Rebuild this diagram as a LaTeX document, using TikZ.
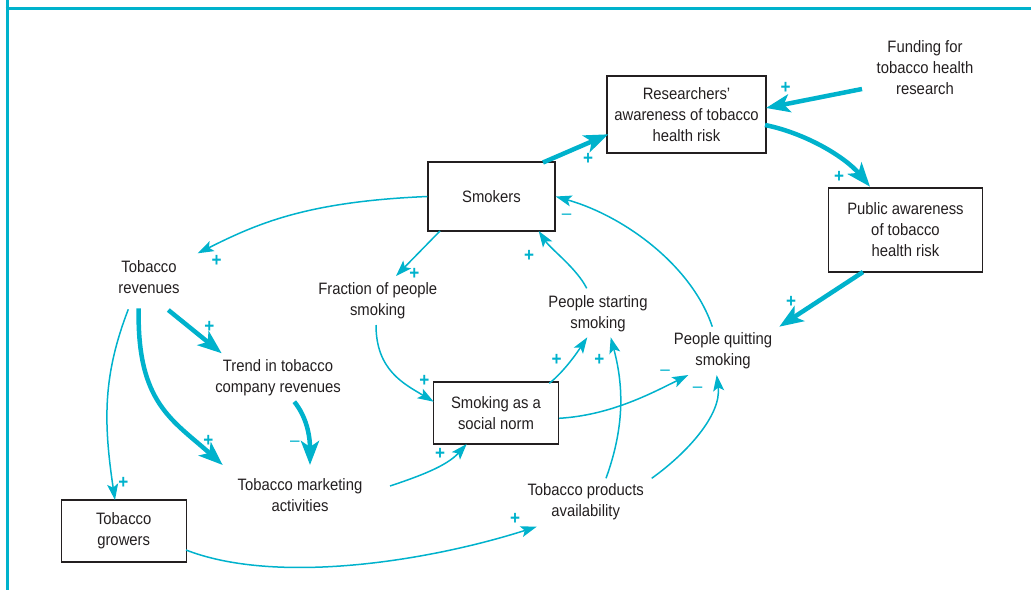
\documentclass[tikz,border=0pt]{standalone}
\usepackage{fontspec}
\setmainfont{Liberation Sans}[FakeStretch=0.9]
\usetikzlibrary{arrows.meta}
\definecolor{cy}{RGB}{0,178,204}
\definecolor{ink}{RGB}{35,31,32}
\begin{document}
\begin{tikzpicture}[x=1pt,y=-1pt,
  every node/.style={text=ink, font=\fontsize{16.5}{21}\selectfont},
  txt/.style={align=center, inner sep=0pt},
  box/.style={draw=ink, line width=1.4pt, align=center, inner sep=0pt},
  thinarr/.style={draw=cy, line width=1.5pt, -{Stealth[length=16pt,width=11pt,inset=3.5pt]}},
  thickarr/.style={draw=cy, line width=4.5pt, -{Stealth[length=24pt,width=18pt,inset=6pt]}},
  sgn/.style={text=cy, font=\fontsize{19}{19}\selectfont\bfseries, inner sep=0pt},
  frame/.style={draw=cy, line width=3pt}]
\useasboundingbox (0,0) rectangle (1031,590);
% frame
\draw[frame] (7,0) -- (7,590);
\draw[frame] (5.5,8) -- (1031,8);
% nodes
\node[box, minimum width=159pt, minimum height=77pt] (res) at (686.5,114.5) {Researchers’\\awareness of tobacco\\health risk};
\node[txt] (fund) at (925,68) {Funding for\\tobacco health\\research};
\node[box, minimum width=154pt, minimum height=84pt] (pub) at (905.5,230) {Public awareness\\of tobacco\\health risk};
\node[box, minimum width=127pt, minimum height=69pt] (smk) at (491.5,196.5) {Smokers};
\node[txt] (rev) at (149,277) {Tobacco\\revenues};
\node[txt] (frac) at (377.7,300.5) {Fraction of people\\smoking};
\node[txt] (start) at (598,313.5) {People starting\\smoking};
\node[txt] (quit) at (723,351) {People quitting\\smoking};
\node[box, minimum width=125pt, minimum height=62pt] (norm) at (496,413) {Smoking as a\\social norm};
\node[txt] (prod) at (585.7,502) {Tobacco products\\availability};
\node[txt] (trend) at (278,377.5) {Trend in tobacco\\company revenues};
\node[txt] (mkt) at (300,495.5) {Tobacco marketing\\activities};
\node[box, minimum width=125pt, minimum height=62pt] (grow) at (123.7,531) {Tobacco\\growers};
% thick connectors
\draw[thickarr] ([shift={(51.5,-34)}]smk.center) -- ([shift={(-78.2,19.8)}]res.center);
\draw[thickarr] ([shift={(-63,21)}]fund.center) -- ([shift={(79.5,-6.5)}]res.center);
\draw[thickarr] ([shift={(78.5,10.5)}]res.center) .. controls +(40,8) and +(-25,-30) .. ([shift={(-35.5,-43.3)}]pub.center);
\draw[thickarr] ([shift={(-42.5,42)}]pub.center) -- ([shift={(56.3,-24.3)}]quit.center);
\draw[thickarr] ([shift={(19.3,33)}]rev.center) -- ([shift={(-56.3,-24.2)}]trend.center);
\draw[thickarr] ([shift={(-10.3,31.3)}]rev.center) .. controls +(-2,95) and +(-50,-45) .. ([shift={(-77.3,-30.5)}]mkt.center);
\draw[thickarr] ([shift={(16.3,24.2)}]trend.center) .. controls +(12,15) and +(0,-30) .. ([shift={(10,-30.5)}]mkt.center);
% thin connectors
\draw[thinarr] (smk.west) .. controls +(-120,5) and +(60,-30) .. ([shift={(48.7,-23.7)}]rev.center);
\draw[thinarr] ([shift={(-51.5,34.5)}]smk.center) -- ([shift={(18.3,-24.5)}]frac.center);
\draw[thinarr] ([shift={(-11.3,-25.2)}]start.center) .. controls +(-10,-20) and +(12,18) .. ([shift={(47.2,34.5)}]smk.center);
\draw[thinarr] ([shift={(-10.7,-24.3)}]quit.center) .. controls +(-20,-60) and +(70,20) .. (smk.east);
\draw[thinarr] ([shift={(-1.7,24.5)}]frac.center) .. controls +(0,45) and +(-30,-18) .. ([shift={(-62.3,-11.3)}]norm.center);
\draw[thinarr] ([shift={(90,-9.5)}]mkt.center) .. controls +(30,-10) and +(-20,22) .. ([shift={(-29.3,31)}]norm.center);
\draw[thinarr] ([shift={(53.3,-29.7)}]norm.center) .. controls +(15,-12) and +(-10,15) .. ([shift={(-10.7,23.8)}]start.center);
\draw[thinarr] ([shift={(63,5.3)}]norm.center) .. controls +(50,-3) and +(-40,20) .. ([shift={(-34.7,24)}]quit.center);
\draw[thinarr] ([shift={(20.3,-23.7)}]prod.center) .. controls +(20,-55) and +(12,45) .. ([shift={(12.7,23.8)}]start.center);
\draw[thinarr] ([shift={(66,-23.7)}]prod.center) .. controls +(35,-25) and +(5,40) .. ([shift={(-6.3,24)}]quit.center);
\draw[thinarr] ([shift={(-20.7,32.3)}]rev.center) .. controls +(-25,65) and +(-12,-80) .. ([shift={(-8.7,-31)}]grow.center);
\draw[thinarr] ([shift={(62.3,19)}]grow.center) .. controls +(90,35) and +(-110,35) .. ([shift={(-49,24.7)}]prod.center);
% polarity signs
\node[sgn] (s1) at (588,159) {+};
\node[sgn] (s2) at (785.7,87.7) {+};
\node[sgn] (s3) at (839,177.3) {+};
\node[sgn] (s4) at (791,302) {+};
\node[sgn] (s5) at (209.3,326.7) {+};
\node[sgn] (s6) at (208.3,440.7) {+};
\node[sgn] (s7) at (295,444) {\mdseries –};
\node[sgn] (s8) at (216.7,261) {+};
\node[sgn] (s9) at (414.3,273.5) {+};
\node[sgn] (s10) at (529,255.7) {+};
\node[sgn] (s11) at (566.7,216.7) {\mdseries –};
\node[sgn] (s12) at (424.3,381) {+};
\node[sgn] (s13) at (440,454) {+};
\node[sgn] (s14) at (556.7,360) {+};
\node[sgn] (s15) at (665,372.7) {\mdseries –};
\node[sgn] (s16) at (599.3,360) {+};
\node[sgn] (s17) at (697.7,389.3) {\mdseries –};
\node[sgn] (s18) at (123.3,483.3) {+};
\node[sgn] (s19) at (515,519.3) {+};
\end{tikzpicture}
\end{document}
